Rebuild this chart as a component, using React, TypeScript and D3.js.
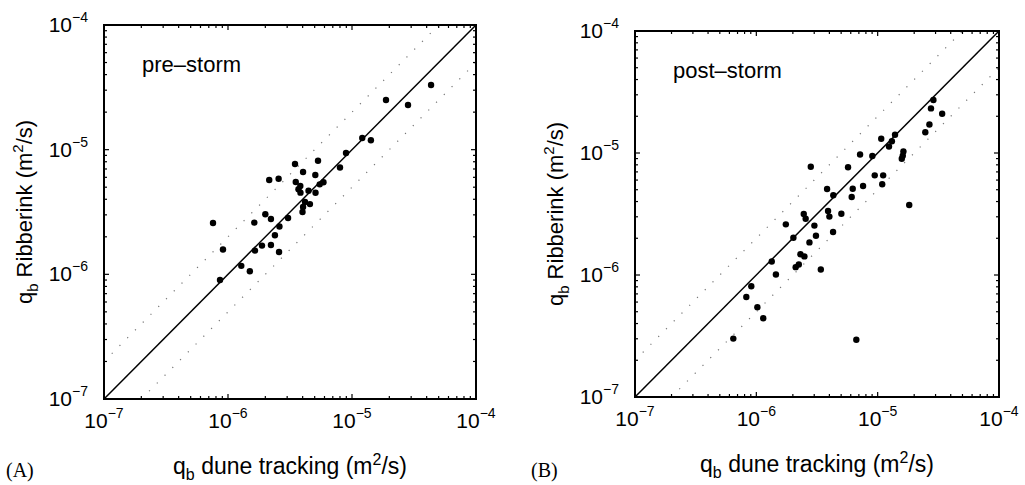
import React from "react";
import * as d3 from "d3";

// ---- data (m^2/s) ----
const preTracking = [4.34e-5, 1.88e-5, 2.83e-5, 1.21e-5, 1.42e-5, 8.95e-6, 8.0e-6, 3.47e-6, 5.32e-6, 4.03e-6, 5.06e-6, 2.15e-6, 2.56e-6, 3.52e-6, 3.83e-6, 3.7e-6, 3.84e-6, 4.46e-6, 5.08e-6, 5.49e-6, 5.89e-6, 4.18e-6, 4.58e-6, 4.03e-6, 3.99e-6, 3.05e-6, 2.0e-6, 2.22e-6, 2.6e-6, 1.63e-6, 7.57e-7, 2.39e-6, 1.88e-6, 2.22e-6, 1.65e-6, 2.58e-6, 9.11e-7, 1.28e-6, 1.5e-6, 8.62e-7];
const preRibberink = [3.3e-5, 2.5e-5, 2.28e-5, 1.24e-5, 1.19e-5, 9.4e-6, 7.19e-6, 7.67e-6, 8.15e-6, 6.62e-6, 6.26e-6, 5.71e-6, 5.85e-6, 5.5e-6, 5.11e-6, 4.81e-6, 4.52e-6, 4.69e-6, 4.51e-6, 5.27e-6, 5.48e-6, 3.8e-6, 3.66e-6, 3.47e-6, 3.16e-6, 2.83e-6, 3.03e-6, 2.78e-6, 2.42e-6, 2.6e-6, 2.58e-6, 2.06e-6, 1.7e-6, 1.72e-6, 1.55e-6, 1.51e-6, 1.58e-6, 1.17e-6, 1.06e-6, 9.01e-7];

const postTracking = [2.88e-5, 2.75e-5, 3.4e-5, 2.67e-5, 2.47e-5, 1.07e-5, 1.39e-5, 1.31e-5, 1.24e-5, 7.16e-6, 9.04e-6, 1.63e-5, 1.61e-5, 1.58e-5, 2.81e-6, 5.7e-6, 9.46e-6, 1.11e-5, 1.09e-5, 7.58e-6, 6.23e-6, 3.83e-6, 4.31e-6, 6.11e-6, 1.82e-5, 3.9e-6, 4.0e-6, 5.02e-6, 2.46e-6, 2.55e-6, 1.75e-6, 3.01e-6, 4.29e-6, 2.02e-6, 3.1e-6, 2.74e-6, 2.31e-6, 2.49e-6, 2.24e-6, 2.11e-6, 1.34e-6, 3.4e-6, 1.45e-6, 9.09e-7, 8.27e-7, 1.02e-6, 1.14e-6, 6.46e-7, 6.67e-6];
const postRibberink = [2.72e-5, 2.32e-5, 2.1e-5, 1.71e-5, 1.48e-5, 1.31e-5, 1.41e-5, 1.25e-5, 1.13e-5, 9.72e-6, 9.45e-6, 1.03e-5, 9.51e-6, 8.98e-6, 7.72e-6, 7.64e-6, 6.56e-6, 6.56e-6, 5.54e-6, 5.37e-6, 5.1e-6, 5.07e-6, 4.5e-6, 4.36e-6, 3.75e-6, 3.35e-6, 3.01e-6, 3.18e-6, 3.16e-6, 2.89e-6, 2.6e-6, 2.54e-6, 2.25e-6, 2.02e-6, 2.1e-6, 1.85e-6, 1.48e-6, 1.42e-6, 1.22e-6, 1.16e-6, 1.29e-6, 1.11e-6, 1.01e-6, 8.08e-7, 6.6e-7, 5.45e-7, 4.42e-7, 3.01e-7, 2.95e-7];

const axisDomain: [number, number] = [1e-7, 1e-4];
const majorExponents = [-7, -6, -5, -4];
const bandFactor = 2;

const panels = [
  { key: "A", label: "(A)", title: "pre–storm", x: preTracking, y: preRibberink, left: 104, top: 25, width: 372, height: 374, labelX: 6 },
  { key: "B", label: "(B)", title: "post–storm", x: postTracking, y: postRibberink, left: 635, top: 31, width: 364, height: 366, labelX: 531 },
];

const FONT = "'Liberation Sans', Arial, Helvetica, sans-serif";

function Panel({ p }: { p: (typeof panels)[number] }) {
  const xs = d3.scaleLog().domain(axisDomain).range([p.left, p.left + p.width]);
  const ys = d3.scaleLog().domain(axisDomain).range([p.top + p.height, p.top]);
  const allTicks = xs.ticks();
  const isMajor = (v: number) => Math.abs(Math.log10(v) - Math.round(Math.log10(v))) < 1e-6;
  const bottom = p.top + p.height;
  const right = p.left + p.width;
  const [d0, d1] = axisDomain;
  const upper = [[d0, d0 * bandFactor], [d1 / bandFactor, d1]];
  const lower = [[d0 * bandFactor, d0], [d1, d1 / bandFactor]];
  const line = (pts: number[][]) => `M${xs(pts[0][0])},${ys(pts[0][1])}L${xs(pts[1][0])},${ys(pts[1][1])}`;
  const cx = p.left + p.width / 2;
  const cy = p.top + p.height / 2;
  return (
    <g>
      {/* dotted factor-of-2 lines */}
      <path d={line(upper)} stroke="#777" strokeWidth={1.2} strokeDasharray="1.2 9.8" fill="none" />
      <path d={line(lower)} stroke="#777" strokeWidth={1.2} strokeDasharray="1.2 9.8" fill="none" />
      {/* 1:1 line */}
      <path d={line([[d0, d0], [d1, d1]])} stroke="#000" strokeWidth={1.5} fill="none" />
      {/* points */}
      {p.x.map((v, i) => (
        <circle key={i} cx={xs(v)} cy={ys(p.y[i])} r={3.2} fill="#000" />
      ))}
      {/* ticks on four sides */}
      {allTicks.map((t, i) => {
        const len = isMajor(t) ? 5 : 3;
        const X = xs(t);
        const Y = ys(t);
        return (
          <g key={i} stroke="#000" strokeWidth={1.2}>
            <line x1={X} x2={X} y1={bottom} y2={bottom - len} />
            <line x1={X} x2={X} y1={p.top} y2={p.top + len} />
            <line x1={p.left} x2={p.left + len} y1={Y} y2={Y} />
            <line x1={right} x2={right - len} y1={Y} y2={Y} />
          </g>
        );
      })}
      {/* box */}
      <rect x={p.left} y={p.top} width={p.width} height={p.height} fill="none" stroke="#000" strokeWidth={2} />
      {/* tick labels */}
      {majorExponents.map((e) => (
        <text key={"x" + e} x={xs(Math.pow(10, e))} y={bottom + 29} textAnchor="middle" fontFamily={FONT} fontSize={21}>
          10<tspan fontSize={14} dy={-10}>{"−" + Math.abs(e)}</tspan>
        </text>
      ))}
      {majorExponents.map((e) => (
        <text key={"y" + e} x={p.left - 16} y={ys(Math.pow(10, e)) + 7} textAnchor="end" fontFamily={FONT} fontSize={21}>
          10<tspan fontSize={14} dy={-10}>{"−" + Math.abs(e)}</tspan>
        </text>
      ))}
      {/* panel title */}
      <text x={p.left + 38} y={p.top + 47} fontFamily={FONT} fontSize={22}>{p.title}</text>
      {/* x axis title */}
      <text x={cx} y={bottom + 75} textAnchor="middle" fontFamily={FONT} fontSize={23}>
        q<tspan fontSize={16} dy={6}>b</tspan>
        <tspan dy={-6}> dune tracking (m</tspan>
        <tspan fontSize={16} dy={-9}>2</tspan>
        <tspan dy={9}>/s)</tspan>
      </text>
      {/* y axis title */}
      <text transform={`translate(${p.left - 72},${cy}) rotate(-90)`} textAnchor="middle" fontFamily={FONT} fontSize={22}>
        q<tspan fontSize={15} dy={6}>b</tspan>
        <tspan dy={-6}> Ribberink (m</tspan>
        <tspan fontSize={15} dy={-9}>2</tspan>
        <tspan dy={9}>/s)</tspan>
      </text>
      {/* panel letter */}
      <text x={p.labelX} y={477} fontFamily="'Liberation Serif', 'Times New Roman', serif" fontSize={20}>{p.label}</text>
    </g>
  );
}

export default function App() {
  return (
    <div style={{ position: "absolute", left: 0, top: 0 }}>
      <svg width={1025} height={485} style={{ display: "block", background: "#fff" }}>
        {panels.map((p) => (
          <Panel key={p.key} p={p} />
        ))}
      </svg>
    </div>
  );
}
